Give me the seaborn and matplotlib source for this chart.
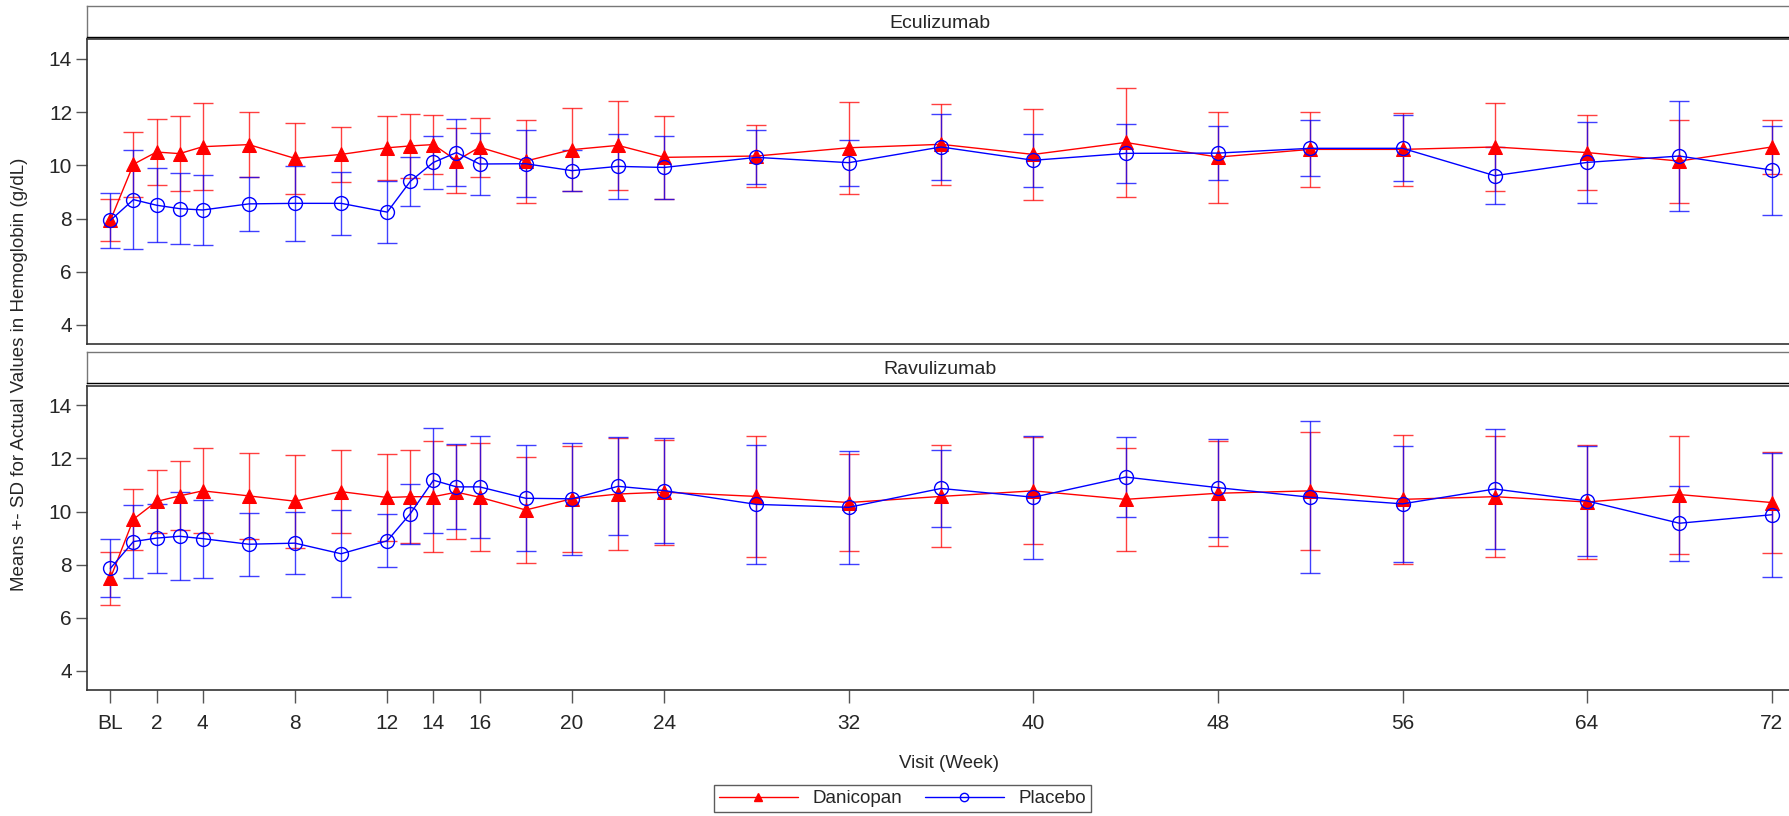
import numpy as np
import pandas as pd
import seaborn as sns
import matplotlib
matplotlib.use("Agg")
import matplotlib.pyplot as plt
from matplotlib.lines import Line2D

# semanas de visita (BL = 0)
weeks = [0, 1, 2, 3, 4, 6, 8, 10, 12, 13, 14, 15, 16, 18, 20, 22, 24,
         28, 32, 36, 40, 44, 48, 52, 56, 60, 64, 68, 72]
tick_weeks = [0, 2, 4, 8, 12, 14, 16, 20, 24, 32, 40, 48, 56, 64, 72]
tick_labels = ["BL", "2", "4", "8", "12", "14", "16", "20", "24", "32",
               "40", "48", "56", "64", "72"]

# Eculizumab - medias y SD
ecu_dan_mean = [7.93, 10.04, 10.50, 10.44, 10.70, 10.78, 10.26, 10.41, 10.66, 10.73,
                10.78, 10.18, 10.68, 10.16, 10.59, 10.75, 10.30, 10.35, 10.66, 10.79,
                10.41, 10.86, 10.31, 10.60, 10.60, 10.69, 10.48, 10.16, 10.69]
ecu_dan_sd = [0.79, 1.22, 1.24, 1.40, 1.63, 1.22, 1.32, 1.03, 1.20, 1.19,
              1.10, 1.21, 1.11, 1.56, 1.56, 1.66, 1.56, 1.17, 1.74, 1.53,
              1.71, 2.06, 1.71, 1.41, 1.36, 1.67, 1.40, 1.56, 1.03]
ecu_pla_mean = [7.93, 8.71, 8.50, 8.37, 8.32, 8.55, 8.57, 8.57, 8.24, 9.40,
                10.11, 10.48, 10.05, 10.06, 9.80, 9.96, 9.92, 10.30, 10.10, 10.69,
                10.19, 10.45, 10.46, 10.64, 10.64, 9.61, 10.11, 10.35, 9.82]
ecu_pla_sd = [1.03, 1.87, 1.40, 1.33, 1.33, 1.01, 1.41, 1.19, 1.17, 0.93,
              0.99, 1.26, 1.16, 1.27, 0.78, 1.23, 1.18, 1.02, 0.87, 1.24,
              1.00, 1.11, 1.01, 1.05, 1.24, 1.08, 1.52, 2.06, 1.67]

# Ravulizumab - medias y SD
rav_dan_mean = [7.49, 9.71, 10.38, 10.59, 10.78, 10.59, 10.39, 10.75, 10.53, 10.56,
                10.56, 10.73, 10.54, 10.06, 10.48, 10.66, 10.73, 10.57, 10.34, 10.57,
                10.78, 10.46, 10.69, 10.78, 10.46, 10.56, 10.36, 10.64, 10.34]
rav_dan_sd = [1.00, 1.15, 1.19, 1.30, 1.60, 1.62, 1.75, 1.57, 1.63, 1.75,
              2.10, 1.76, 2.04, 1.98, 1.99, 2.11, 1.98, 2.27, 1.82, 1.92,
              2.01, 1.95, 1.97, 2.23, 2.42, 2.28, 2.16, 2.22, 1.90]
rav_pla_mean = [7.86, 8.87, 9.00, 9.07, 8.98, 8.77, 8.81, 8.41, 8.90, 9.92,
                11.18, 10.93, 10.93, 10.50, 10.48, 10.95, 10.79, 10.27, 10.16, 10.87,
                10.54, 11.30, 10.90, 10.54, 10.29, 10.85, 10.40, 9.56, 9.88]
rav_pla_sd = [1.09, 1.39, 1.30, 1.65, 1.47, 1.18, 1.18, 1.64, 1.00, 1.13,
              1.97, 1.60, 1.92, 2.00, 2.12, 1.84, 1.98, 2.24, 2.12, 1.45,
              2.32, 1.50, 1.85, 2.86, 2.18, 2.26, 2.07, 1.42, 2.34]

panels = ["Eculizumab", "Ravulizumab"]
treatments = ["Danicopan", "Placebo"]

# armar dataframe largo
rows = []
series = {
    ("Eculizumab", "Danicopan"): (ecu_dan_mean, ecu_dan_sd),
    ("Eculizumab", "Placebo"): (ecu_pla_mean, ecu_pla_sd),
    ("Ravulizumab", "Danicopan"): (rav_dan_mean, rav_dan_sd),
    ("Ravulizumab", "Placebo"): (rav_pla_mean, rav_pla_sd),
}
for (panel, trt), (m, s) in series.items():
    for w, mv, sv in zip(weeks, m, s):
        rows.append({"panel": panel, "trt": trt, "week": w, "mean": mv, "sd": sv})
df = pd.DataFrame(rows)

sns.set_style("ticks")
plt.rcParams["font.family"] = ["Liberation Sans", "DejaVu Sans"]

colors = {"Danicopan": "#FF0000", "Placebo": "#0000FF"}
styles = {"Danicopan": dict(marker="^", markersize=9.5, markerfacecolor="#FF0000",
                            markeredgecolor="#FF0000"),
          "Placebo": dict(marker="o", markersize=10, markerfacecolor="none",
                          markeredgecolor="#0000FF", markeredgewidth=1.0)}

W, H = 1789, 816
fig = plt.figure(figsize=(W / 100, H / 100), dpi=100)

# posiciones en pixeles: (top, bottom) de eje y franja
ax_left, ax_right = 87.3, 1792
layout = [(39.3, 344, 6, 37), (385.7, 690, 352.3, 383.3)]

for panel, (atop, abot, stop, sbot) in zip(panels, layout):
    ax = fig.add_axes([ax_left / W, 1 - abot / H, (ax_right - ax_left) / W, (abot - atop) / H])
    sax = fig.add_axes([ax_left / W, 1 - sbot / H, (ax_right - ax_left) / W, (sbot - stop) / H])
    sub = df[df["panel"] == panel]
    for trt in treatments:
        d = sub[sub["trt"] == trt]
        ax.errorbar(d["week"], d["mean"], yerr=d["sd"], fmt="none",
                    ecolor=colors[trt], elinewidth=1.0, capsize=7, capthick=1.0,
                    alpha=0.75, zorder=2)
        sns.lineplot(data=d, x="week", y="mean", color=colors[trt], linewidth=1.0,
                     ax=ax, zorder=3, legend=False, **styles[trt])
    ax.set_xlim(-1.0, 72.88)
    ax.set_ylim(3.28, 14.74)
    ax.set_yticks([4, 6, 8, 10, 12, 14])
    ax.set_xticks(tick_weeks)
    ax.set_xlabel("")
    ax.set_ylabel("")
    ax.tick_params(axis="y", labelsize=15, length=8, width=1, color="#555555", pad=3)
    ax.tick_params(axis="x", labelsize=15, length=9, width=1, color="#555555", pad=8)
    if panel == "Eculizumab":
        ax.tick_params(axis="x", bottom=False, labelbottom=False)
    else:
        ax.set_xticklabels(tick_labels)
    for sp in ax.spines.values():
        sp.set_color("#333333")
        sp.set_linewidth(1.2)
    sax.set_xticks([])
    sax.set_yticks([])
    for sp in sax.spines.values():
        sp.set_color("#777777")
        sp.set_linewidth(1.0)
    sax.spines["bottom"].set_color("#000000")
    sax.text(0.5, 0.45, panel, ha="center", va="center", fontsize=14,
             transform=sax.transAxes)

fig.text(19.4 / W, 1 - 374 / H, "Means +- SD for Actual Values in Hemoglobin (g/dL)",
         rotation=90, ha="center", va="center", fontsize=13.5)
fig.text(949 / W, 1 - 764 / H, "Visit (Week)", ha="center", va="center", fontsize=13.5)

handles = [Line2D([], [], color="#FF0000", lw=1.0, marker="^", markersize=6,
                  markerfacecolor="#FF0000", markeredgecolor="#FF0000"),
           Line2D([], [], color="#0000FF", lw=1.0, marker="o", markersize=6,
                  markerfacecolor="none", markeredgecolor="#0000FF")]
leg = fig.legend(handles, treatments, loc="center", bbox_to_anchor=(902.5 / W, 1 - 798.5 / H),
                 ncol=2, fontsize=13.5, frameon=True, fancybox=False, handlelength=4.2,
                 columnspacing=1.2, borderpad=0.25, handletextpad=0.8)
leg.get_frame().set_edgecolor("#333333")
leg.get_frame().set_linewidth(1.0)

fig.savefig("out.png", dpi=100)
